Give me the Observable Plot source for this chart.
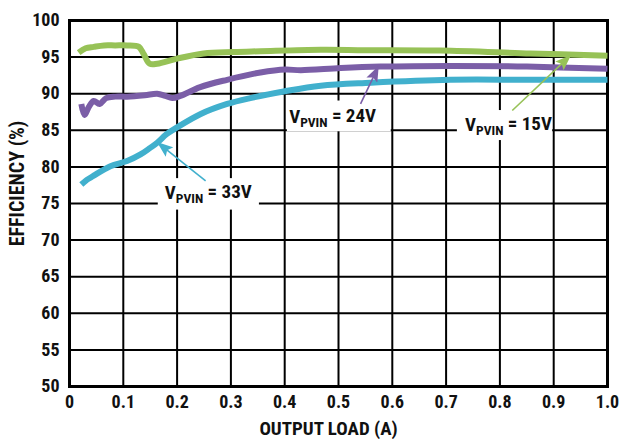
<!DOCTYPE html>
<html>
<head>
<meta charset="utf-8">
<script src="https://cdn.jsdelivr.net/npm/d3@7"></script>
<script src="https://cdn.jsdelivr.net/npm/@observablehq/plot@0.6"></script>
<style>
  html, body { margin: 0; padding: 0; background: #fff; }
  #chart svg { display: block; }
</style>
</head>
<body>
<div id="chart"></div>
<script>
// ---- Data ----
const load15 = [0.017, 0.03, 0.045, 0.064, 0.085, 0.107, 0.129, 0.138, 0.149, 0.163, 0.2, 0.249, 0.305, 0.355, 0.467, 0.55, 0.69, 0.857, 1.0];
const eff15  = [95.6, 96.2, 96.4, 96.6, 96.6, 96.6, 96.4, 95.4, 94.1, 94.1, 94.8, 95.5, 95.7, 95.8, 96.0, 95.95, 95.9, 95.5, 95.2];

const load24 = [0.022, 0.028, 0.036, 0.045, 0.056, 0.068, 0.085, 0.107, 0.14, 0.163, 0.178, 0.191, 0.206, 0.243, 0.293, 0.355, 0.401, 0.43, 0.504, 0.578, 0.708, 0.85, 1.0];
const eff24  = [88.6, 87.1, 88.2, 89.0, 88.6, 89.4, 89.6, 89.6, 89.8, 90.0, 89.7, 89.4, 89.7, 90.9, 91.9, 92.9, 93.3, 93.2, 93.5, 93.7, 93.8, 93.7, 93.4];

const load33 = [0.022, 0.03, 0.045, 0.076, 0.107, 0.132, 0.15, 0.163, 0.181, 0.2, 0.243, 0.293, 0.336, 0.398, 0.467, 0.56, 0.708, 0.85, 1.0];
const eff33  = [77.6, 78.1, 78.8, 80.1, 80.8, 81.7, 82.6, 83.3, 84.5, 85.4, 87.2, 88.6, 89.4, 90.3, 91.1, 91.5, 91.9, 91.9, 91.9];

const seriesNames  = ["15V", "24V", "33V"];
const seriesColors = ["#97c257", "#7b5ea7", "#41b0cd"];

const xTicks = [0, 0.1, 0.2, 0.3, 0.4, 0.5, 0.6, 0.7, 0.8, 0.9, 1.0];
const xTickLabels = ["0", "0.1", "0.2", "0.3", "0.4", "0.5", "0.6", "0.7", "0.8", "0.9", "1.0"];
const yTicks = [50, 55, 60, 65, 70, 75, 80, 85, 90, 95, 100];

// annotation placement (data units)
const labelNames = ["15V", "24V", "33V"];
const labelX   = [0.816, 0.489, 0.258];
const labelY   = [85.7, 86.8, 76.4];
const boxX1    = [0.721, 0.405, 0.165];
const boxX2    = [0.898, 0.598, 0.353];
const boxY1    = [83.6, 84.8, 74.1];
const boxY2    = [87.7, 89.0, 78.4];
const arrowX1  = [0.823, 0.541, 0.253];
const arrowY1  = [87.7, 88.6, 78.1];
const arrowX2  = [0.931, 0.574, 0.164];
const arrowY2  = [95.2, 93.7, 83.3];

// ---- Build tables ----
const rows = [];
[[load15, eff15, "15V"], [load24, eff24, "24V"], [load33, eff33, "33V"]].forEach(([xs, ys, s]) => {
  xs.forEach((x, i) => rows.push({series: s, load: x, eff: ys[i]}));
});
const ann = labelNames.map((n, i) => ({
  name: n, color: seriesColors[seriesNames.indexOf(n)],
  x: labelX[i], y: labelY[i],
  bx1: boxX1[i], bx2: boxX2[i], by1: boxY1[i], by2: boxY2[i],
  ax1: arrowX1[i], ay1: arrowY1[i], ax2: arrowX2[i], ay2: arrowY2[i]
}));

const FONT = "'Liberation Sans Narrow', 'Arial Narrow', 'Roboto Condensed', sans-serif";

const chart = Plot.plot({
  width: 620,
  height: 439,
  marginLeft: 69,
  marginRight: 13,
  marginTop: 20,
  marginBottom: 53,
  style: {fontFamily: FONT, fontWeight: "bold", fontSize: "18px", color: "#111", background: "#fff"},
  x: {domain: [0, 1], ticks: xTicks},
  y: {domain: [50, 100], ticks: yTicks},
  color: {domain: seriesNames, range: seriesColors},
  marks: [
    Plot.gridX(xTicks, {stroke: "#000", strokeOpacity: 1, strokeWidth: 2}),
    Plot.gridY(yTicks, {stroke: "#000", strokeOpacity: 1, strokeWidth: 2}),
    Plot.frame({stroke: "#000", strokeWidth: 3}),
    Plot.rect(ann, {x1: "bx1", x2: "bx2", y1: "by1", y2: "by2", fill: "#fff"}),
    Plot.line(rows, {x: "load", y: "eff", z: "series", stroke: "series", strokeWidth: 6, curve: "catmull-rom", strokeLinejoin: "round", strokeLinecap: "butt"}),
    Plot.link(ann, {x1: "ax1", y1: "ay1", x2: "ax2", y2: "ay2", stroke: "color", strokeWidth: 1.6, className: "ann-arrow"}),
    Plot.text(ann, {x: "x", y: "y", text: "name", fill: "#111", fontSize: 19, textAnchor: "middle", className: "ann-label"}),
    Plot.axisX(xTicks, {tickSize: 0, tickPadding: 9, fontSize: 18, tickFormat: (d, i) => xTickLabels[i], label: "OUTPUT LOAD (A)", labelAnchor: "center", labelArrow: "none", labelOffset: 48}),
    Plot.axisY(yTicks, {tickSize: 0, tickPadding: 10, fontSize: 18, label: "EFFICIENCY (%)", labelAnchor: "center", labelArrow: "none", labelOffset: 60})
  ]
});

const svg = d3.select(chart);

// Axis titles: size and placement tweaks
const xLab = svg.select("g[aria-label='x-axis label']");
xLab.attr("font-size", 19).selectAll("text").attr("font-size", 19);
xLab.attr("transform", (xLab.attr("transform") || "") + " translate(-10,0)");
const yLab = svg.select("g[aria-label='y-axis label']");
yLab.attr("font-size", 20).selectAll("text").attr("font-size", 20);
yLab.attr("transform", (yLab.attr("transform") || "") + " translate(0,-20)");

// Subscript labels and filled arrowheads
svg.selectAll("g.ann-label text").each(function() {
  const t = d3.select(this);
  const txt = t.text();
  t.text(null);
  t.append("tspan").text("V");
  t.append("tspan").attr("font-size", 13.5).attr("dy", "0.3em").text("PVIN");
  t.append("tspan").attr("dy", "-0.3em").text(" = " + txt);
});
const defs = svg.insert("defs", ":first-child");
svg.selectAll("g.ann-arrow path, g.ann-arrow line").each(function(_, i) {
  const el = d3.select(this);
  const col = el.attr("stroke");
  const id = "ah" + i;
  defs.append("marker")
    .attr("id", id).attr("viewBox", "0 0 16 12").attr("refX", 15).attr("refY", 6)
    .attr("markerUnits", "userSpaceOnUse").attr("markerWidth", 16).attr("markerHeight", 12)
    .attr("orient", "auto")
    .append("path").attr("d", "M0,0L16,6L0,12L3,6Z").attr("fill", col);
  el.attr("marker-end", `url(#${id})`);
});

document.getElementById("chart").appendChild(chart);
</script>
</body>
</html>
